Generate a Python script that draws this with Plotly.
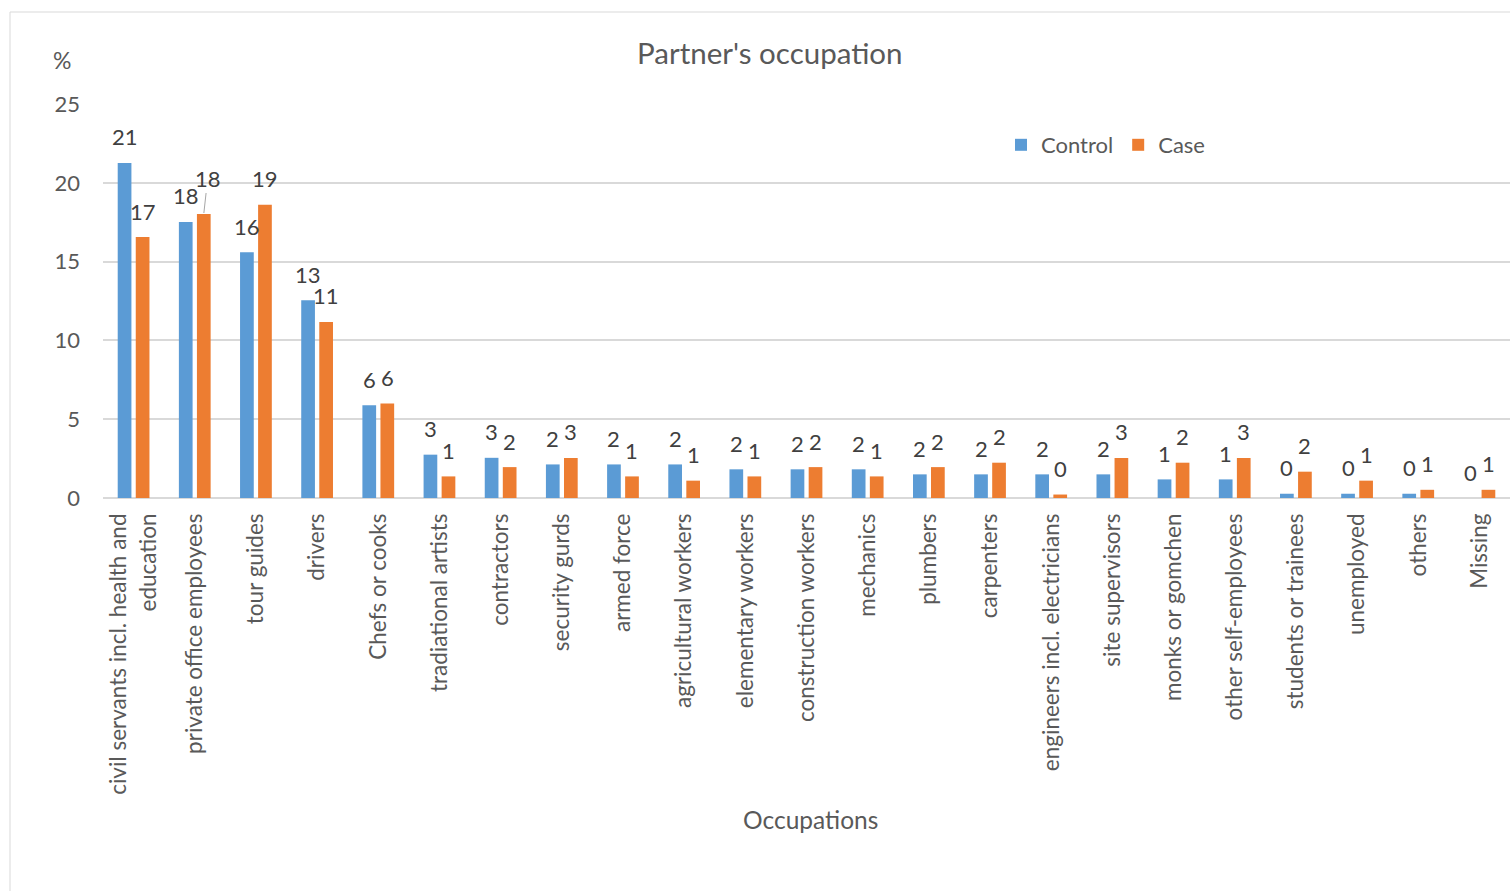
import plotly.graph_objects as go

# Partner's occupation, percent of each group
categories = [
    "civil servants incl. health and<br>education", "private office employees", "tour guides",
    "drivers", "Chefs or cooks", "tradiational artists", "contractors", "security gurds",
    "armed force", "agricultural workers", "elementary workers", "construction workers",
    "mechanics", "plumbers", "carpenters", "engineers incl. electricians", "site supervisors",
    "monks or gomchen", "other self-employees", "students or trainees", "unemployed",
    "others", "Missing",
]
control = [21.26, 17.52, 15.6, 12.55, 5.89, 2.75, 2.55, 2.13, 2.13, 2.13, 1.82, 1.82,
           1.82, 1.5, 1.5, 1.5, 1.5, 1.18, 1.18, 0.27, 0.27, 0.27, 0.0]
case = [16.56, 18.02, 18.6, 11.17, 6.0, 1.37, 1.96, 2.54, 1.37, 1.1, 1.37, 1.96,
        1.37, 1.96, 2.24, 0.22, 2.54, 2.24, 2.54, 1.67, 1.1, 0.52, 0.52]
y_ticks = [0, 5, 10, 15, 20, 25]

FONT = "Lato"
BLUE = "#5B9BD5"
ORANGE = "#ED7D31"
TEXT = "#595959"
LABEL = "#404040"

fig = go.Figure()
fig.add_trace(go.Bar(x=categories, y=control, name="Control",
                     marker=dict(color=BLUE, line=dict(width=0))))
fig.add_trace(go.Bar(x=categories, y=case, name="Case",
                     marker=dict(color=ORANGE, line=dict(width=0))))

# value labels above each bar
annotations = []
for series, shift in ((control, -9), (case, 9)):
    for cat, v in zip(categories, series):
        lbl = dict(x=cat, y=v, text=f"{v:.0f}", showarrow=False, xshift=shift,
                   yshift=26, yanchor="middle",
                   font=dict(family=FONT, size=22, color=LABEL))
        if series is case and cat == "private office employees":
            # this label is pushed up with a short leader line
            lbl.update(showarrow=True, arrowhead=0, arrowwidth=1, arrowcolor="#a6a6a6",
                       ax=4, ay=-36, xshift=9, yshift=0, standoff=1)
        annotations.append(lbl)

annotations += [
    dict(text="%", xref="paper", yref="paper", x=(62 - 103) / 1407, y=(498 - 60) / 394,
         showarrow=False, xanchor="center", yanchor="middle",
         font=dict(family=FONT, size=23, color=TEXT)),
    dict(text="Occupations", xref="paper", yref="paper", x=(810 - 103) / 1407,
         y=(498 - 819) / 394, showarrow=False, xanchor="center", yanchor="middle",
         font=dict(family=FONT, size=24.5, color=TEXT)),
    dict(text="Partner's occupation", xref="paper", yref="paper", x=(770 - 103) / 1407,
         y=(498 - 52) / 394, showarrow=False, xanchor="center", yanchor="middle",
         font=dict(family=FONT, size=29.5, color=TEXT)),
]

fig.update_layout(
    width=1510, height=891,
    margin=dict(l=103, r=0, t=104, b=393),
    paper_bgcolor="white", plot_bgcolor="white",
    barmode="group", bargap=0.41, bargroupgap=0.24,
    showlegend=True,
    legend=dict(orientation="h", x=(1001 - 103) / 1407, y=(498 - 145) / 394,
                xanchor="left", yanchor="middle", bgcolor="rgba(0,0,0,0)",
                font=dict(family=FONT, size=22, color=TEXT), itemwidth=30,
                traceorder="normal"),
    annotations=annotations,
    shapes=[dict(type="rect", xref="paper", yref="paper",
                 x0=(10 - 103) / 1407, x1=1.05, y0=-1.3, y1=(498 - 12) / 394,
                 line=dict(color="#d9d9d9", width=1), layer="below")],
    xaxis=dict(type="category", tickangle=-90, showgrid=False, showline=False,
               ticks="", tickfont=dict(family=FONT, size=22.5, color=TEXT),
               ticklabelstandoff=10),
    yaxis=dict(range=[0, 25], tickvals=y_ticks, showgrid=True, gridcolor="#d9d9d9",
               gridwidth=1.5, zeroline=True, zerolinecolor="#d9d9d9", zerolinewidth=1.5,
               showline=False, ticks="", ticklabelstandoff=22,
               tickfont=dict(family=FONT, size=22, color=TEXT)),
)

fig.write_html("out.html")
